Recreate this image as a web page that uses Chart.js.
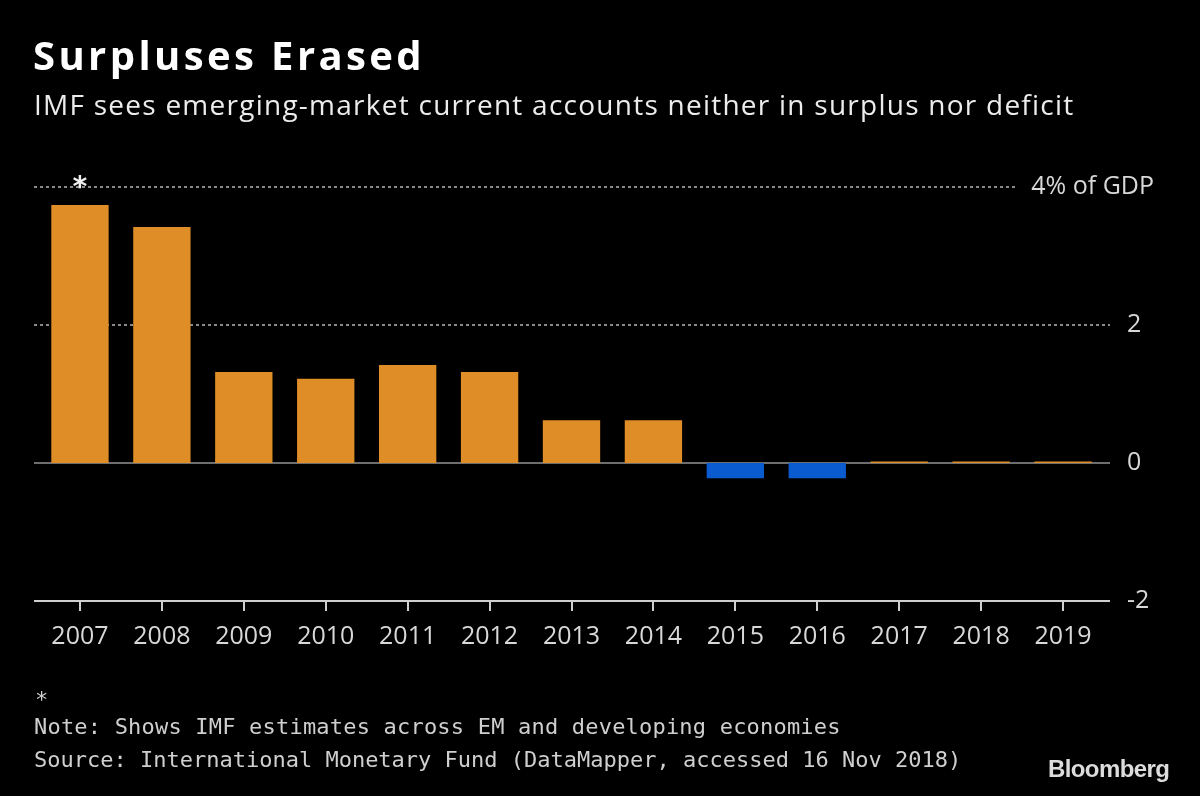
<!DOCTYPE html>
<html>
<head>
<meta charset="utf-8">
<script src="https://cdn.jsdelivr.net/npm/chart.js@4.4.1/dist/chart.umd.min.js"></script>
<style>
  html, body { margin: 0; padding: 0; background: #000; }
  body { width: 1200px; height: 796px; position: relative; overflow: hidden; }
  #wrap { position: absolute; left: 0; top: 0; width: 1200px; height: 796px; }
  .t { position: absolute; white-space: nowrap; }
  #title { left: 33px; top: 27px; font: bold 40px "Open Sans", sans-serif; color: #fff; letter-spacing: 3.4px; }
  #sub { left: 34px; top: 85px; font: 28px "Open Sans", sans-serif; color: #ececec; letter-spacing: 1.25px; }
  #star { left: 35px; top: 687px; font: 22px "DejaVu Sans Mono", monospace; color: #cfcfcf; }
  #note { left: 34px; top: 714px; font: 22px "DejaVu Sans Mono", monospace; color: #cfcfcf; letter-spacing: 0.2px; }
  #src { left: 34px; top: 747px; font: 22px "DejaVu Sans Mono", monospace; color: #cfcfcf; }
  #logo { left: 1048px; top: 755px; font: bold 24px "Liberation Sans", Arial, sans-serif; color: #dcdcdc; letter-spacing: -0.6px; }
</style>
</head>
<body>
<div id="wrap"><canvas id="c" width="1200" height="796"></canvas></div>
<div class="t" id="title">Surpluses Erased</div>
<div class="t" id="sub">IMF sees emerging-market current accounts neither in surplus nor deficit</div>
<div class="t" id="star">*</div>
<div class="t" id="note">Note: Shows IMF estimates across EM and developing economies</div>
<div class="t" id="src">Source: International Monetary Fund (DataMapper, accessed 16 Nov 2018)</div>
<div class="t" id="logo">Bloomberg</div>
<script>
const years = ['2007','2008','2009','2010','2011','2012','2013','2014','2015','2016','2017','2018','2019'];
const balance = [3.74, 3.42, 1.32, 1.22, 1.42, 1.32, 0.62, 0.62, -0.22, -0.22, 0.02, 0.02, 0.02];
const yTicks = [-2, 0, 2, 4];
const topTickLabel = '4% of GDP';
const starredIndex = 0;

const ORANGE = '#df8d27';
const BLUE = '#0b5bd0';

const overlay = {
  id: 'overlay',
  beforeDatasetsDraw(chart) {
    const ctx = chart.ctx;
    const y = chart.scales.y;
    const x0 = chart.chartArea.left - 5, x1 = chart.chartArea.right + 6;
    ctx.save();
    ctx.strokeStyle = '#8a8a8a';
    ctx.lineWidth = 2;
    ctx.setLineDash([3, 3]);
    [2, 4].forEach(v => {
      const py = Math.round(y.getPixelForValue(v));
      ctx.beginPath();
      ctx.moveTo(x0, py);
      ctx.lineTo(v === 4 ? 1016 : x1, py);
      ctx.stroke();
    });
    ctx.setLineDash([]);
    ctx.strokeStyle = '#6e6e6e';
    ctx.lineWidth = 2;
    const pz = Math.round(y.getPixelForValue(0));
    ctx.beginPath();
    ctx.moveTo(x0, pz);
    ctx.lineTo(x1, pz);
    ctx.stroke();
    ctx.strokeStyle = '#cfcfcf';
    const pb = Math.round(y.getPixelForValue(-2));
    ctx.beginPath();
    ctx.moveTo(x0, pb);
    ctx.lineTo(x1, pb);
    ctx.stroke();
    ctx.restore();
  },
  afterDraw(chart) {
    const ctx = chart.ctx;
    const y = chart.scales.y, x = chart.scales.x;
    ctx.save();
    ctx.fillStyle = '#d8d8d8';
    ctx.font = '25px "Open Sans", sans-serif';
    ctx.textAlign = 'right';
    ctx.textBaseline = 'middle';
    ctx.fillText(topTickLabel, 1154, y.getPixelForValue(4));
    ctx.fillStyle = '#f0f0f0';
    ctx.font = 'bold 28px "DejaVu Sans Mono", monospace';
    ctx.textAlign = 'center';
    ctx.fillText('*', x.getPixelForValue(starredIndex), y.getPixelForValue(4) + 2);
    ctx.restore();
  }
};

new Chart(document.getElementById('c'), {
  type: 'bar',
  data: {
    labels: years,
    datasets: [{
      data: balance,
      backgroundColor: balance.map(v => v < 0 ? BLUE : ORANGE),
      borderWidth: 0,
      barPercentage: 0.7,
      categoryPercentage: 1.0
    }]
  },
  options: {
    responsive: false,
    animation: false,
    events: [],
    layout: { padding: { left: 39, top: 187, right: 0, bottom: 0 } },
    plugins: { legend: { display: false }, tooltip: { enabled: false }, title: { display: false } },
    scales: {
      x: {
        offset: true,
        grid: { display: true, drawOnChartArea: false, drawTicks: true, tickLength: 10, color: '#cfcfcf', lineWidth: 2, offset: false },
        border: { display: false },
        ticks: { color: '#d8d8d8', font: { family: '"Open Sans", sans-serif', size: 25 }, padding: 11, maxRotation: 0, autoSkip: false },
        afterFit(s) { s.height = 195; }
      },
      y: {
        position: 'right',
        min: -2, max: 4,
        afterBuildTicks(s) { s.ticks = yTicks.map(v => ({ value: v })); },
        grid: { display: false, drawTicks: false },
        border: { display: false },
        ticks: {
          color: '#d8d8d8',
          font: { family: '"Open Sans", sans-serif', size: 25 },
          padding: 23,
          crossAlign: 'near',
          callback: v => v === 4 ? '' : String(v)
        },
        afterFit(s) { s.width = 96; }
      }
    }
  },
  plugins: [overlay]
});
</script>
</body>
</html>
